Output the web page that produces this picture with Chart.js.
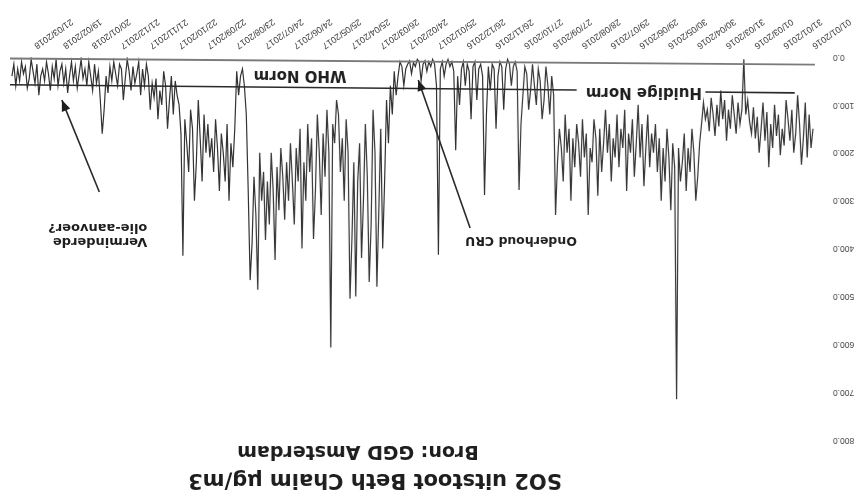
<!DOCTYPE html>
<html><head><meta charset="utf-8">
<script src="https://cdn.jsdelivr.net/npm/chart.js@4.4.1/dist/chart.umd.min.js"></script>
<style>
html,body{margin:0;padding:0;background:#fff;}
#wrap{width:856px;height:496px;transform:rotate(180deg);transform-origin:50% 50%;}
canvas{display:block;}
</style></head><body>
<div id="wrap"><canvas id="c" width="856" height="496"></canvas></div>
<script>
// ---- data (daily SO2, sampled every 2 days from 01/01/2016) ----
const dayStep = 2;
const tickLabels = ["01/01/2016","31/01/2016","01/03/2016","31/03/2016","30/04/2016","30/05/2016","29/06/2016","29/07/2016","28/08/2016","27/09/2016","27/10/2016","26/11/2016","26/12/2016","25/01/2017","24/02/2017","26/03/2017","25/04/2017","25/05/2017","24/06/2017","24/07/2017","23/08/2017","22/09/2017","22/10/2017","21/11/2017","21/12/2017","20/01/2018","19/02/2018","21/03/2018"];
const yTickValues = [0,100,200,300,400,500,600,700,800];
const yTickLabels = ["0.0","100.0","200.0","300.0","400.0","500.0","600.0","700.0","800.0"];

const so2JanMar2016 = [150,190,120,210,95,170,225,140,80,160,200,110,175,130,90,185,150,205,120,165,100,190,140,230,115,175,95,150,200,125,170,105,160,135,90,120,5,110];
const so2MarMay2016 = [140,95,160,120,80,150,110,175,90,130,70,145,100,165,120,85,155,110,130,95,140,180,250,300,200,150,240,190,280,160,220,260,190,715,230,180,320,210,150,260,190,300,170,240,140,200];
const so2JunSep2016 = [160,230,120,190,270,140,210,100,180,250,130,200,160,280,110,190,150,230,120,210,170,260,140,200,110,180,240,150,290,170,130,220,190,330,160,210,130,250,180,140,230,170,300,150,200,120,260,190,150,220,330];
const so2OctDec2016 = [80,40,120,60,20,90,130,50,25,100,60,15,70,110,35,20,80,140,278,30,10,20,60,15,5,25,110,20,10,40,150,25,15,70,20,120,288,40,15,25,90,10,20,130,30,15,60,10,25,100,40,195,30,10,20,5,15,40,10,25,413];
const so2JanMar2017 = [60,15,5,20,10,30,8,15,50,10,5,20,12,35,8,15,25,60,20,10,40,80,30,120,60];
const so2AprJun2017 = [180,90,260,400,150,320,480,200,110,350,470,250,140,300,420,180,260,500,220,380,505,200,130,300,170,240,120,90,180,140,607,200,110,250,160,330,200,120,280,380,170,240,140,300,220,400,150,260,190,350];
const so2JulSep2017 = [260,180,300,220,340,250,190,320,230,424,280,200,350,260,382,240,300,200,486,330,250,390,466,280,120,60,25,40,80,30,150,230,180,300,140,260,200,160,280,190,130,240,170,210,140];
const so2OctDec2017 = [200,120,260,170,90,220,300,150,110,240,180,130,415,160,100,80,50,120,40,90,150,60,30,100,70,130,45,85,55,110,40,15,60,25,80,10,35,55,20,70,30,5,45,90,25,15,60,35,10,50,20,75,40,110,160];
const so2JanApr2018 = [90,30,55,15,70,40,10,60,25,45,5,35,65,20,50,10,40,75,25,55,15,30,60,5,45,20,70,35,10,50,25,40,80,15,55,30,5,45,65,20,35,10,50,25,60,15,40];

const whoNormDays = [-2, 836];
const whoNormValues = [16, 3];
const currentNormDays = [19, 112, 180, 246, 836];
const currentNormValues = [75, 73, null, 69, 58];

const titleLines = ["SO2 uitstoot Beth Chaim µg/m3", "Bron: GGD Amsterdam"];

// ---- build series ----
const so2 = [].concat(so2JanMar2016, so2MarMay2016, so2JunSep2016, so2OctDec2016,
  so2JanMar2017, so2AprJun2017, so2JulSep2017, so2OctDec2017, so2JanApr2018);
const so2Points = so2.map((v, i) => ({x: i * dayStep, y: v}));
const whoPoints = whoNormDays.map((d, i) => ({x: d, y: whoNormValues[i]}));
const curPoints = currentNormDays.map((d, i) => ({x: d, y: currentNormValues[i]}));

// annotation layout (data coordinates)
const notes = {
  who: {text: "WHO Norm", day: 534, val: 38, size: 15},
  cur: {text: "Huidige Norm", day: 176, val: 73, size: 15},
  cru: {text: "Onderhoud CRU", day: 304, val: 382, size: 12.5, arrow: [357, 357, 411, 48]},
  oil: {lines: ["Verminderde", "olie-aanvoer?"], day: 693, vals: [386, 355], size: 13, arrow: [743, 282, 782, 90]}
};

function drawArrow(ctx, x1, y1, x2, y2) {
  ctx.beginPath(); ctx.moveTo(x1, y1); ctx.lineTo(x2, y2); ctx.stroke();
  const a = Math.atan2(y2 - y1, x2 - x1), L = 11, W = 4.5;
  ctx.beginPath();
  ctx.moveTo(x2, y2);
  ctx.lineTo(x2 - L * Math.cos(a) + W * Math.sin(a), y2 - L * Math.sin(a) - W * Math.cos(a));
  ctx.lineTo(x2 - L * Math.cos(a) - W * Math.sin(a), y2 - L * Math.sin(a) + W * Math.cos(a));
  ctx.closePath(); ctx.fill();
}

const decor = {
  id: 'decor',
  afterDatasetsDraw(chart) {
    const {ctx} = chart; const x = chart.scales.x, y = chart.scales.y;
    ctx.save();
    ctx.fillStyle = '#1e1e1e'; ctx.strokeStyle = '#2a2a2a'; ctx.lineWidth = 1.6;
    ctx.textBaseline = 'middle';
    ctx.textAlign = 'center';
    ctx.font = 'bold 21px "DejaVu Sans"';
    ctx.fillText(titleLines[0], 481, 17);
    ctx.font = 'bold 19px "DejaVu Sans"';
    ctx.fillText(titleLines[1], 498, 45);
    for (const k of ['who', 'cur', 'cru']) {
      const n = notes[k];
      ctx.font = 'bold ' + n.size + 'px "DejaVu Sans"';
      ctx.fillText(n.text, x.getPixelForValue(n.day), y.getPixelForValue(n.val));
    }
    const o = notes.oil;
    ctx.textAlign = 'left';
    ctx.font = 'bold ' + o.size + 'px "DejaVu Sans"';
    o.lines.forEach((t, i) => ctx.fillText(t, x.getPixelForValue(o.day), y.getPixelForValue(o.vals[i])));
    for (const n of [notes.cru, notes.oil]) {
      const [d1, v1, d2, v2] = n.arrow;
      drawArrow(ctx, x.getPixelForValue(d1), y.getPixelForValue(v1), x.getPixelForValue(d2), y.getPixelForValue(v2));
    }
    ctx.restore();
  }
};

new Chart(document.getElementById('c'), {
  type: 'line',
  data: {
    datasets: [
      {data: so2Points, borderColor: '#333333', borderWidth: 1.2, pointRadius: 0, tension: 0, order: 2},
      {data: whoPoints, borderColor: '#7a7a7a', borderWidth: 1.9, pointRadius: 0, order: 1},
      {data: curPoints, borderColor: '#2a2a2a', borderWidth: 1.6, pointRadius: 0, spanGaps: false, order: 1}
    ]
  },
  options: {
    responsive: false, animation: false, devicePixelRatio: 1,
    layout: {padding: {top: 56, right: 10, left: 0, bottom: 0}},
    plugins: {legend: {display: false}, tooltip: {enabled: false}, title: {display: false}},
    scales: {
      x: {
        type: 'linear', min: -2, max: 836,
        afterBuildTicks: s => { s.ticks = tickLabels.map((_, i) => ({value: i * 30})); },
        afterFit: s => { s.height = 57; },
        grid: {display: false, drawTicks: false}, border: {display: false},
        ticks: {autoSkip: false, maxRotation: 35, minRotation: 35, padding: 6, color: '#333',
          font: {family: 'Liberation Sans', size: 9},
          callback: v => tickLabels[Math.round(v / 30)]}
      },
      y: {
        min: 0, max: 800,
        afterBuildTicks: s => { s.ticks = yTickValues.map(v => ({value: v})); },
        afterFit: s => { s.width = 41; },
        grid: {display: false, drawTicks: false}, border: {display: false},
        ticks: {padding: 18, color: '#444', font: {family: 'Liberation Sans', size: 8.5},
          callback: v => yTickLabels[yTickValues.indexOf(v)]}
      }
    }
  },
  plugins: [decor]
});
</script>
</body></html>
